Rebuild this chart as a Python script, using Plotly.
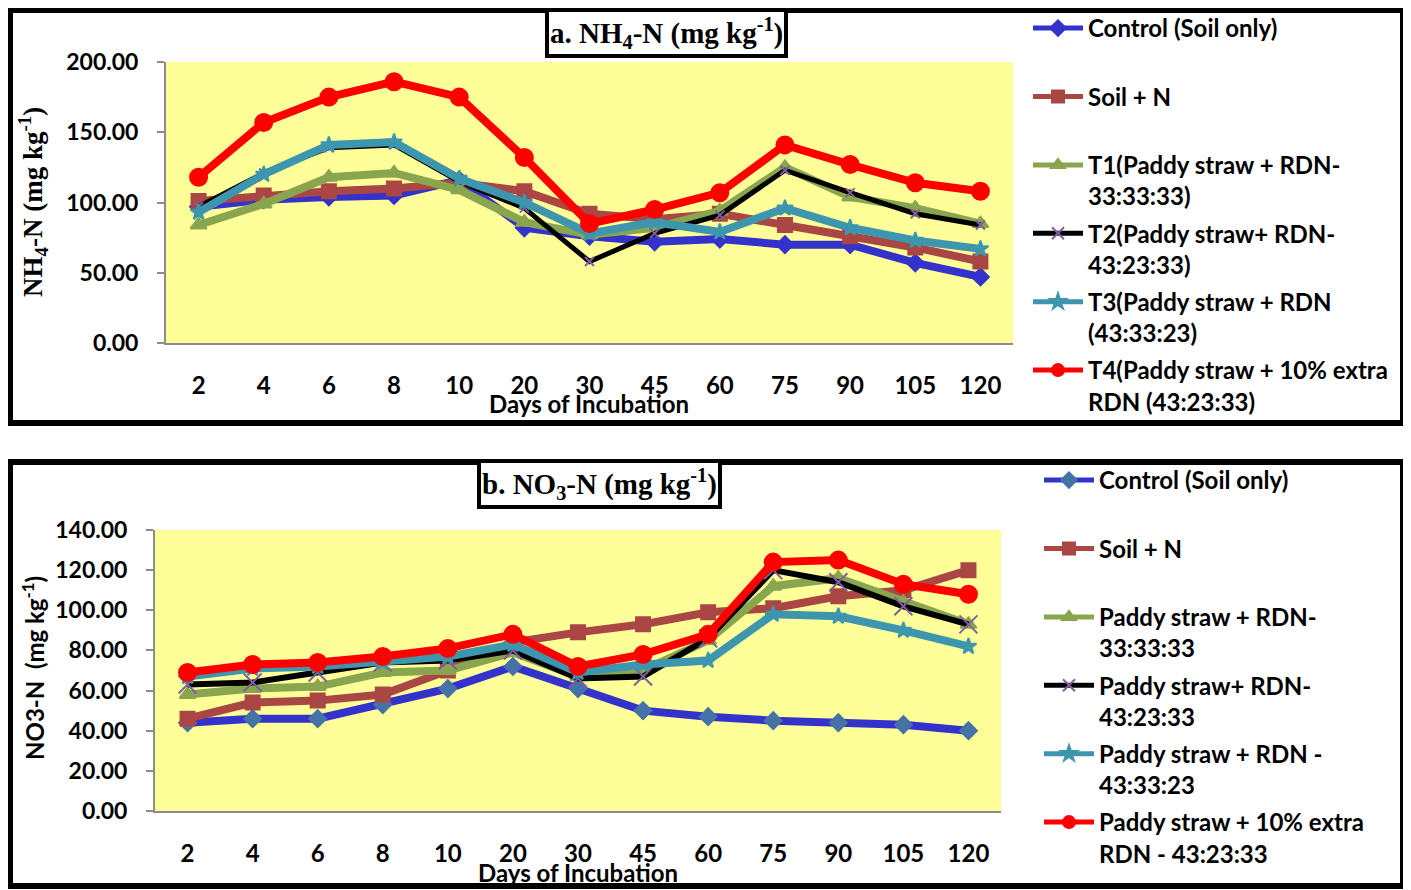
import plotly.graph_objects as go

# Days of incubation (category axis)
days = ["2", "4", "6", "8", "10", "20", "30", "45", "60", "75", "90", "105", "120"]

# a. NH4-N (mg kg-1)
nh4_control = [97, 102, 104, 105, 116, 82, 76, 72, 74, 70, 70, 57, 47]
nh4_soil_n = [101, 105, 108, 110, 114, 108, 92, 88, 92, 84, 76, 68, 58]
nh4_t1 = [84, 99, 118, 121, 109, 86, 77, 82, 94, 125, 104, 96, 85]
nh4_t2 = [97, 121, 139, 141, 115, 96, 58, 78, 91, 123, 107, 92, 84]
nh4_t3 = [93, 120, 141, 143, 117, 100, 78, 86, 79, 96, 82, 73, 67]
nh4_t4 = [118, 157, 175, 186, 175, 132, 85, 95, 107, 141, 127, 114, 108]

# b. NO3-N (mg kg-1)
no3_control = [44, 46, 46, 53, 61, 72, 61, 50, 47, 45, 44, 43, 40]
no3_soil_n = [46, 54, 55, 58, 70, 84, 89, 93, 99, 101, 107, 110, 120]
no3_t1 = [58, 61, 62, 69, 70, 79, 67, 70, 85, 112, 116, 104, 93]
no3_t2 = [63, 64, 69, 74, 75, 80, 66, 67, 86, 120, 114, 102, 93]
no3_t3 = [67, 71, 72, 74, 77, 83, 69, 73, 75, 98, 97, 90, 82]
no3_t4 = [69, 73, 74, 77, 81, 88, 72, 78, 88, 124, 125, 113, 108]

names_a = ["Control (Soil only)<br>&nbsp;", "Soil + N<br>&nbsp;",
           "T1(Paddy straw + RDN-<br>33:33:33)", "T2(Paddy straw+ RDN-<br>43:23:33)",
           "T3(Paddy straw + RDN<br>(43:33:23)", "T4(Paddy straw + 10% extra<br>RDN (43:23:33)"]
names_b = ["Control (Soil only)<br>&nbsp;", "Soil + N<br>&nbsp;",
           "Paddy straw + RDN-<br>33:33:33", "Paddy straw+ RDN-<br>43:23:33",
           "Paddy straw + RDN -<br>43:33:23", "Paddy straw + 10% extra<br>RDN - 43:23:33"]

W, H = 1411, 890
OFF = 8  # page body margin
FONT = "Lato"


def px(x):
    return (x - OFF) / W


def py(y):
    return 1 - (y - OFF) / H


# line colour, line width, marker symbol, marker colour (top, bottom), marker size (top, bottom)
styles = [
    ("#3333cc", 8, "diamond", "#3333cc", "#4572a7", 13, 13),
    ("#aa4643", 8, "square", "#aa4643", "#aa4643", 14, 14),
    ("#89a54e", 8, "triangle-up", "#89a54e", "#89a54e", 14, 14),
    ("#000000", 5, "x-thin-open", "#7f5fa0", "#7f5fa0", 9, 18),
    ("#3d96ae", 8, "star", "#3d96ae", "#3d96ae", 12, 12),
    ("#ff0000", 8, "circle", "#ff0000", "#ff0000", 17, 17),
]

fig = go.Figure()

top_series = [nh4_control, nh4_soil_n, nh4_t1, nh4_t2, nh4_t3, nh4_t4]
bot_series = [no3_control, no3_soil_n, no3_t1, no3_t2, no3_t3, no3_t4]

for i, (vals, st) in enumerate(zip(top_series, styles)):
    lc, lw, sym, mc_top, mc_bot, ms_top, ms_bot = st
    fig.add_trace(go.Scatter(
        x=days, y=vals, name=names_a[i], mode="lines+markers",
        line=dict(color=lc, width=lw),
        marker=dict(symbol=sym, color=mc_top, size=ms_top,
                    line=dict(color=mc_top, width=2)),
        xaxis="x", yaxis="y", legend="legend", legendgroup="a%d" % i))

for i, (vals, st) in enumerate(zip(bot_series, styles)):
    lc, lw, sym, mc_top, mc_bot, ms_top, ms_bot = st
    fig.add_trace(go.Scatter(
        x=days, y=vals, name=names_b[i], mode="lines+markers",
        line=dict(color=lc, width=6 if i == 3 else lw),
        marker=dict(symbol=sym, color=mc_bot, size=ms_bot,
                    line=dict(color=mc_bot, width=2)),
        xaxis="x2", yaxis="y2", legend="legend2", legendgroup="b%d" % i))

tickfont = dict(family=FONT, size=24, color="black", weight="bold")
xax = dict(type="category", categoryorder="array", categoryarray=days,
           range=[-0.5, 12.5], showline=True, linecolor="#8c8c8c", linewidth=2,
           ticks="", showgrid=False, zeroline=False, tickfont=tickfont,
           ticklabelstandoff=20, automargin=False)
yax = dict(showline=True, linecolor="#8c8c8c", linewidth=2, ticks="outside",
           ticklen=7, tickcolor="#8c8c8c", tickwidth=2, showgrid=False,
           zeroline=False, tickformat=".2f", automargin=False,
           tickfont=dict(tickfont, size=23), ticklabelstandoff=14)

legfont = dict(family=FONT, size=24, color="black", weight="bold")
leg = dict(xanchor="left", yanchor="top", bgcolor="rgba(0,0,0,0)",
           font=legfont, valign="top", tracegroupgap=3, itemsizing="constant",
           itemwidth=50, borderwidth=0)

fig.update_layout(
    width=W, height=H, margin=dict(l=0, r=0, t=0, b=0, autoexpand=False),
    paper_bgcolor="white", plot_bgcolor="#ffff99",
    xaxis=dict(xax, domain=[px(166), px(1013)], anchor="y"),
    yaxis=dict(yax, domain=[py(343), py(62)], range=[0, 200], dtick=50, anchor="x"),
    xaxis2=dict(xax, domain=[px(155), px(1001)], anchor="y2"),
    yaxis2=dict(yax, domain=[py(811), py(530)], range=[0, 140], dtick=20, anchor="x2"),
    legend=dict(leg, x=px(1028), y=py(6)),
    legend2=dict(leg, x=px(1039), y=py(458)),
    showlegend=True,
)

# panel frames
for y0, y1 in [(10, 423), (462, 886)]:
    fig.add_shape(type="rect", xref="paper", yref="paper",
                  x0=px(10), x1=px(1403), y0=py(y1), y1=py(y0),
                  line=dict(color="black", width=6), fillcolor="rgba(0,0,0,0)")

serif = dict(family="Liberation Serif", size=29, color="black", weight="bold")
mid = dict(xref="paper", yref="paper", xanchor="center", yanchor="middle", showarrow=False)
fig.add_annotation(mid, x=px(666), y=py(33),
                   text="a. NH<sub>4</sub>-N (mg kg<sup>-1</sup>)",
                   font=serif, bgcolor="white", bordercolor="black", borderwidth=4,
                   borderpad=1)
fig.add_annotation(mid, x=px(599), y=py(484),
                   text="b. NO<sub>3</sub>-N (mg kg<sup>-1</sup>)",
                   font=serif, bgcolor="white", bordercolor="black", borderwidth=4,
                   borderpad=1)

fig.add_annotation(mid, x=px(33), y=py(202),
                   text="NH<sub>4</sub>-N (mg kg<sup>-1</sup>)", textangle=-90,
                   font=dict(family="Liberation Serif", size=27, color="black", weight="bold"))
fig.add_annotation(mid, x=px(33), y=py(668),
                   text="NO3-N  (mg kg<sup>-1</sup>)", textangle=-90,
                   font=dict(family=FONT, size=24, color="black", weight="bold"))

xtitle = dict(family=FONT, size=24, color="black", weight="bold")
fig.add_annotation(mid, x=px(589), y=py(403), text="Days of Incubation", font=xtitle)
fig.add_annotation(mid, x=px(578), y=py(872), text="Days of Incubation", font=xtitle)

fig.write_html("out.html")
